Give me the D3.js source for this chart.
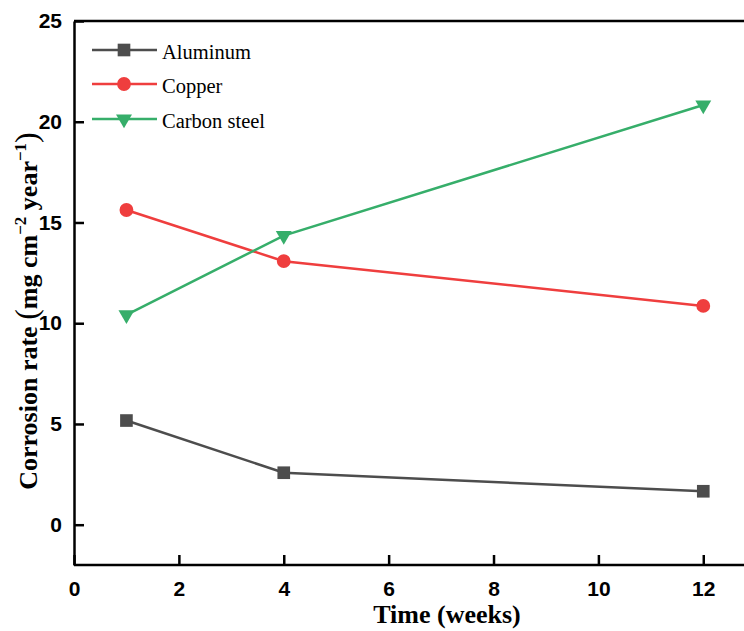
<!DOCTYPE html>
<html>
<head>
<meta charset="utf-8">
<script src="https://cdn.jsdelivr.net/npm/d3@7"></script>
<style>
  body { margin: 0; background: #fff; }
  svg { display: block; }
</style>
</head>
<body>
<div id="chart"></div>
<script>
// datos
const weeks = [1, 4, 12];
const aluminum = [5.17, 2.58, 1.66];
const copper = [15.62, 13.08, 10.86];
const carbonSteel = [10.42, 14.35, 20.83];
const seriesNames = ["Aluminum", "Copper", "Carbon steel"];
const xTicks = [0, 2, 4, 6, 8, 10, 12];
const yTicks = [0, 5, 10, 15, 20, 25];

const width = 744, height = 631;
const colores = ["#4d4d4d", "#ef3e3e", "#36ae6a"];
const simbolos = [d3.symbolSquare, d3.symbolCircle, d3.symbolTriangle];

const svg = d3.select("#chart").append("svg")
  .attr("width", width).attr("height", height);

const margenIzq = 74, margenSup = 21, margenInf = 565;
const x = d3.scaleLinear().domain([0, 13]).range([margenIzq, margenIzq + 13 * 52.44]);
const y = d3.scaleLinear().domain([-2, 25]).range([margenInf, margenSup]);

// marco (solo arriba, izquierda y abajo; el derecho queda fuera)
svg.append("line").attr("x1", margenIzq).attr("x2", width).attr("y1", margenSup).attr("y2", margenSup)
  .attr("stroke", "#000").attr("stroke-width", 2.5);

const xAxis = svg.append("g").attr("transform", `translate(0,${margenInf})`)
  .call(d3.axisBottom(x).tickValues(xTicks).tickSize(-10).tickPadding(16).tickSizeOuter(0));
const yAxis = svg.append("g").attr("transform", `translate(${margenIzq},0)`)
  .call(d3.axisLeft(y).tickValues(yTicks).tickSize(-10).tickPadding(12).tickSizeOuter(0));

[xAxis, yAxis].forEach(g => {
  g.select(".domain").attr("stroke", "#000").attr("stroke-width", 2.5);
  g.selectAll(".tick line").attr("stroke", "#000").attr("stroke-width", 2.5);
  g.selectAll(".tick text")
    .attr("fill", "#000")
    .style("font-family", "'Liberation Sans', Arial, sans-serif")
    .style("font-weight", "bold")
    .style("font-size", "21px");
});
// extender el eje x hasta el borde
xAxis.select(".domain").attr("d", `M${margenIzq},0H${width}`);

// series
const datos = [aluminum, copper, carbonSteel].map((vals, i) =>
  ({ name: seriesNames[i], color: colores[i], symbol: simbolos[i],
     points: weeks.map((w, j) => ({ w: w, v: vals[j] })) }));

const linea = d3.line().x(d => x(d.w)).y(d => y(d.v));

datos.forEach(s => {
  svg.append("path").datum(s.points)
    .attr("d", linea).attr("fill", "none")
    .attr("stroke", s.color).attr("stroke-width", 2.5);
});

function dibujaSimbolo(g, s, cx, cy) {
  const size = s.symbol === d3.symbolSquare ? 160 : (s.symbol === d3.symbolCircle ? 150 : 110);
  const rot = s.symbol === d3.symbolTriangle ? 180 : 0;
  g.append("path")
    .attr("d", d3.symbol().type(s.symbol).size(size))
    .attr("transform", `translate(${cx},${cy}) rotate(${rot})`)
    .attr("fill", s.color);
}

datos.forEach(s => {
  s.points.forEach(p => dibujaSimbolo(svg, s, x(p.w), y(p.v)));
});

// leyenda
const legY = [50, 84, 119];
datos.forEach((s, i) => {
  const g = svg.append("g");
  g.append("line").attr("x1", 92).attr("x2", 157).attr("y1", legY[i]).attr("y2", legY[i])
    .attr("stroke", s.color).attr("stroke-width", 2.5);
  dibujaSimbolo(g, s, 124, legY[i]);
  g.append("text").attr("x", 162).attr("y", legY[i] + 9)
    .style("font-family", "'Liberation Serif', 'Times New Roman', serif")
    .style("font-size", "20.5px").attr("fill", "#000")
    .text(s.name);
});

// titulos de los ejes
svg.append("text")
  .attr("x", 447).attr("y", 623).attr("text-anchor", "middle")
  .style("font-family", "'Liberation Serif', 'Times New Roman', serif")
  .style("font-weight", "bold").style("font-size", "26px")
  .text("Time (weeks)");

const yt = svg.append("text")
  .attr("transform", "translate(37,311) rotate(-90)")
  .attr("text-anchor", "middle")
  .style("font-family", "'Liberation Serif', 'Times New Roman', serif")
  .style("font-weight", "bold").style("font-size", "26px");
yt.append("tspan").text("Corrosion rate ");
yt.append("tspan").style("font-weight", "normal").style("font-size", "32px").text("(");
yt.append("tspan").text("mg cm");
yt.append("tspan").attr("dy", -11).style("font-size", "17px").text("−2");
yt.append("tspan").attr("dy", 11).text(" year");
yt.append("tspan").attr("dy", -11).style("font-size", "17px").text("−1");
yt.append("tspan").attr("dy", 11).style("font-weight", "normal").style("font-size", "32px").text(")");
</script>
</body>
</html>
